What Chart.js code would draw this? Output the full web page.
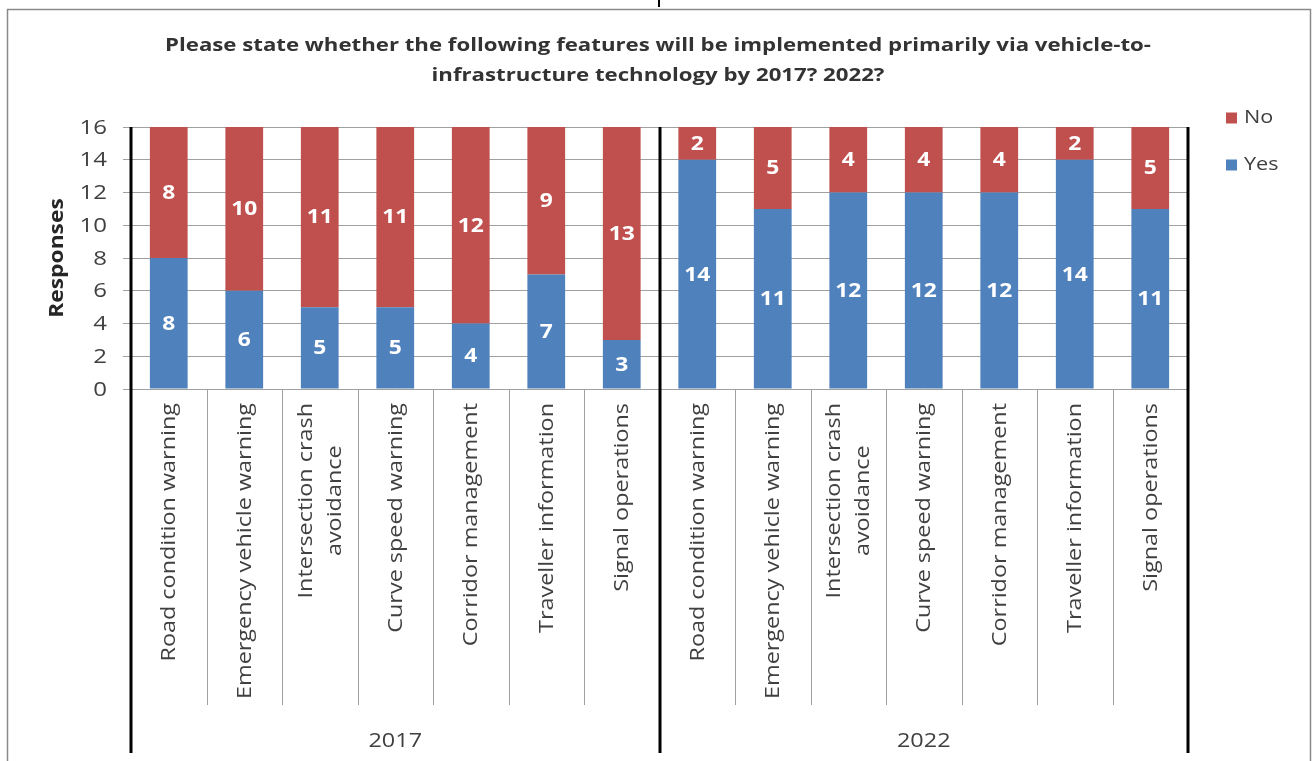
<!DOCTYPE html>
<html>
<head>
<meta charset="utf-8">
<script src="https://cdn.jsdelivr.net/npm/chart.js@4/dist/chart.umd.min.js"></script>
<style>
  html, body { margin: 0; padding: 0; background: #ffffff; overflow: hidden; }
  #wrap { position: relative; width: 1316px; height: 761px; }
  #chart { position: absolute; left: 0; top: 0; }
  #rule { position: absolute; left: 658px; top: 0; width: 2px; height: 7px; background: #000; }
</style>
</head>
<body>
<div id="wrap">
  <canvas id="chart" width="1316" height="761"></canvas>
  <div id="rule"></div>
</div>
<script>
// Survey features asked about for each horizon
const features = [
  'Road condition warning',
  'Emergency vehicle warning',
  ['Intersection crash', 'avoidance'],
  'Curve speed warning',
  'Corridor management',
  'Traveller information',
  'Signal operations'
];
const periods = ['2017', '2022'];

// Responses per feature
const yes2017 = [8, 6, 5, 5, 4, 7, 3];
const no2017  = [8, 10, 11, 11, 12, 9, 13];
const yes2022 = [14, 11, 12, 12, 12, 14, 11];
const no2022  = [2, 5, 4, 4, 4, 2, 5];

const yTicks = [0, 2, 4, 6, 8, 10, 12, 14, 16];

const seriesNames = ['Yes', 'No'];
const seriesColors = ['#4F81BD', '#C0504D'];

const titleLines = [
  'Please state whether the following features will be implemented primarily via vehicle-to-',
  'infrastructure technology by 2017? 2022?'
];
const yTitle = 'Responses';

const FONT = "'Open Sans', sans-serif";
const TEXT = '#404040';
const WIDE = 1.2; // wide lettering: glyphs stretched along the baseline

// One x slot per feature per period
const labels = [];
periods.forEach(p => features.forEach(f => labels.push({ period: p, feature: f })));

const yesValues = yes2017.concat(yes2022);
const noValues = no2017.concat(no2022);

// Draw a single text run, optionally rotated, widened along its baseline
function wideText(ctx, text, x, y, o) {
  ctx.save();
  ctx.font = o.font;
  ctx.fillStyle = o.color;
  ctx.textAlign = o.align || 'center';
  ctx.textBaseline = 'middle';
  ctx.translate(x, y);
  if (o.rotate) ctx.rotate(o.rotate);
  ctx.scale(WIDE, 1);
  ctx.fillText(text, o.dx || 0, o.dy || 0);
  ctx.restore();
}

// Frame around the chart object
const framePlugin = {
  id: 'frame',
  beforeDraw(chart) {
    const ctx = chart.ctx;
    ctx.save();
    ctx.strokeStyle = '#8a8a8a';
    ctx.lineWidth = 1.5;
    ctx.strokeRect(7.5, 9.5, 1303, 800);
    ctx.restore();
  }
};

// White value labels inside each bar segment
const valueLabels = {
  id: 'valueLabels',
  afterDatasetsDraw(chart) {
    const ctx = chart.ctx;
    chart.data.datasets.forEach((ds, di) => {
      const meta = chart.getDatasetMeta(di);
      meta.data.forEach((el, i) => {
        const v = ds.data[i];
        if (!v) return;
        wideText(ctx, String(v), el.x, (el.y + el.base) / 2 + 1,
          { font: `bold 19px ${FONT}`, color: '#ffffff' });
      });
    });
  }
};

// Title, axis text, category labels, separators, period labels, heavy rules, legend
const axisDecor = {
  id: 'axisDecor',
  afterDraw(chart) {
    const ctx = chart.ctx;
    const xs = chart.scales.x;
    const ys = chart.scales.y;
    const area = chart.chartArea;
    const n = labels.length;
    const step = (xs.getPixelForValue(1) - xs.getPixelForValue(0));
    const edge = i => xs.getPixelForValue(i) - step / 2;
    const per = features.length;

    // chart title
    titleLines.forEach((t, k) => {
      wideText(ctx, t, chart.width / 2, 46 + k * 30,
        { font: `bold 18.5px ${FONT}`, color: '#333333' });
    });

    // value axis labels and title
    yTicks.forEach(v => {
      wideText(ctx, String(v), area.left - 24, ys.getPixelForValue(v) + 1,
        { font: `20px ${FONT}`, color: TEXT, align: 'right' });
    });
    wideText(ctx, yTitle, 58, (area.top + area.bottom) / 2,
      { font: `bold 19px ${FONT}`, color: '#262626', rotate: -Math.PI / 2 });

    ctx.save();
    // thin separators between features
    ctx.strokeStyle = '#a0a0a0';
    ctx.lineWidth = 1;
    for (let i = 1; i < n; i++) {
      if (i % per === 0) continue;
      const x = Math.round(edge(i)) + 0.5;
      ctx.beginPath();
      ctx.moveTo(x, area.bottom);
      ctx.lineTo(x, 705);
      ctx.stroke();
    }
    ctx.restore();

    // rotated feature names, lines centred within their block
    const catFont = `19.5px ${FONT}`;
    ctx.save();
    ctx.font = catFont;
    labels.forEach((lab, i) => {
      const lines = Array.isArray(lab.feature) ? lab.feature : [lab.feature];
      const w = Math.max(...lines.map(l => ctx.measureText(l).width));
      const lh = 29;
      const x = xs.getPixelForValue(i) + 1;
      lines.forEach((l, k) => {
        const off = (k - (lines.length - 1) / 2) * lh;
        wideText(ctx, l, x, 403,
          { font: catFont, color: TEXT, rotate: -Math.PI / 2, dx: -w / 2, dy: off });
      });
    });
    ctx.restore();

    // period labels
    periods.forEach((p, g) => {
      const cx = (edge(g * per) + edge((g + 1) * per)) / 2;
      wideText(ctx, p, cx, 741, { font: `19.5px ${FONT}`, color: TEXT });
    });

    // heavy rules at the axis, between periods and at the right end
    ctx.save();
    ctx.strokeStyle = '#000000';
    ctx.lineWidth = 3;
    for (let g = 0; g <= periods.length; g++) {
      const x = Math.round(edge(g * per));
      ctx.beginPath();
      ctx.moveTo(x, area.top);
      ctx.lineTo(x, 753);
      ctx.stroke();
    }
    ctx.restore();

    // legend, "No" above "Yes"
    const lx = area.right + 38;
    [1, 0].forEach((s, k) => {
      const cy = 118 + k * 47;
      ctx.save();
      ctx.fillStyle = seriesColors[s];
      ctx.fillRect(lx, cy - 5.5, 11, 11);
      ctx.restore();
      wideText(ctx, seriesNames[s], lx + 18, cy,
        { font: `18px ${FONT}`, color: TEXT, align: 'left' });
    });
  }
};

function build() {
  new Chart(document.getElementById('chart'), {
    type: 'bar',
    data: {
      labels: labels.map(l => l.period + ' ' + (Array.isArray(l.feature) ? l.feature.join(' ') : l.feature)),
      datasets: [
        { label: seriesNames[0], data: yesValues, backgroundColor: seriesColors[0], barPercentage: 0.5, categoryPercentage: 1 },
        { label: seriesNames[1], data: noValues, backgroundColor: seriesColors[1], barPercentage: 0.5, categoryPercentage: 1 }
      ]
    },
    options: {
      responsive: false,
      devicePixelRatio: 1,
      animation: false,
      layout: { padding: { top: 127, left: 0, right: 0, bottom: 0 } },
      plugins: {
        legend: { display: false },
        tooltip: { enabled: false },
        title: { display: false }
      },
      scales: {
        x: {
          stacked: true,
          grid: { display: false },
          border: { display: false },
          ticks: { display: false },
          afterFit: s => { s.height = 372; }
        },
        y: {
          stacked: true,
          min: 0,
          max: 16,
          afterBuildTicks: s => { s.ticks = yTicks.map(v => ({ value: v })); },
          ticks: { display: false },
          grid: { color: '#a0a0a0', lineWidth: 1, tickLength: 8, drawTicks: true },
          border: { display: false },
          afterFit: s => { s.width = 131; }
        },
        yRight: {
          type: 'linear',
          position: 'right',
          display: true,
          grid: { display: false },
          border: { display: false },
          ticks: { display: false },
          afterFit: s => { s.width = 128; }
        }
      }
    },
    plugins: [framePlugin, valueLabels, axisDecor]
  });
}

if (document.fonts && document.fonts.load) {
  Promise.all([
    document.fonts.load(`20px ${FONT}`),
    document.fonts.load(`bold 20px ${FONT}`)
  ]).then(build, build);
} else {
  build();
}
</script>
</body>
</html>
